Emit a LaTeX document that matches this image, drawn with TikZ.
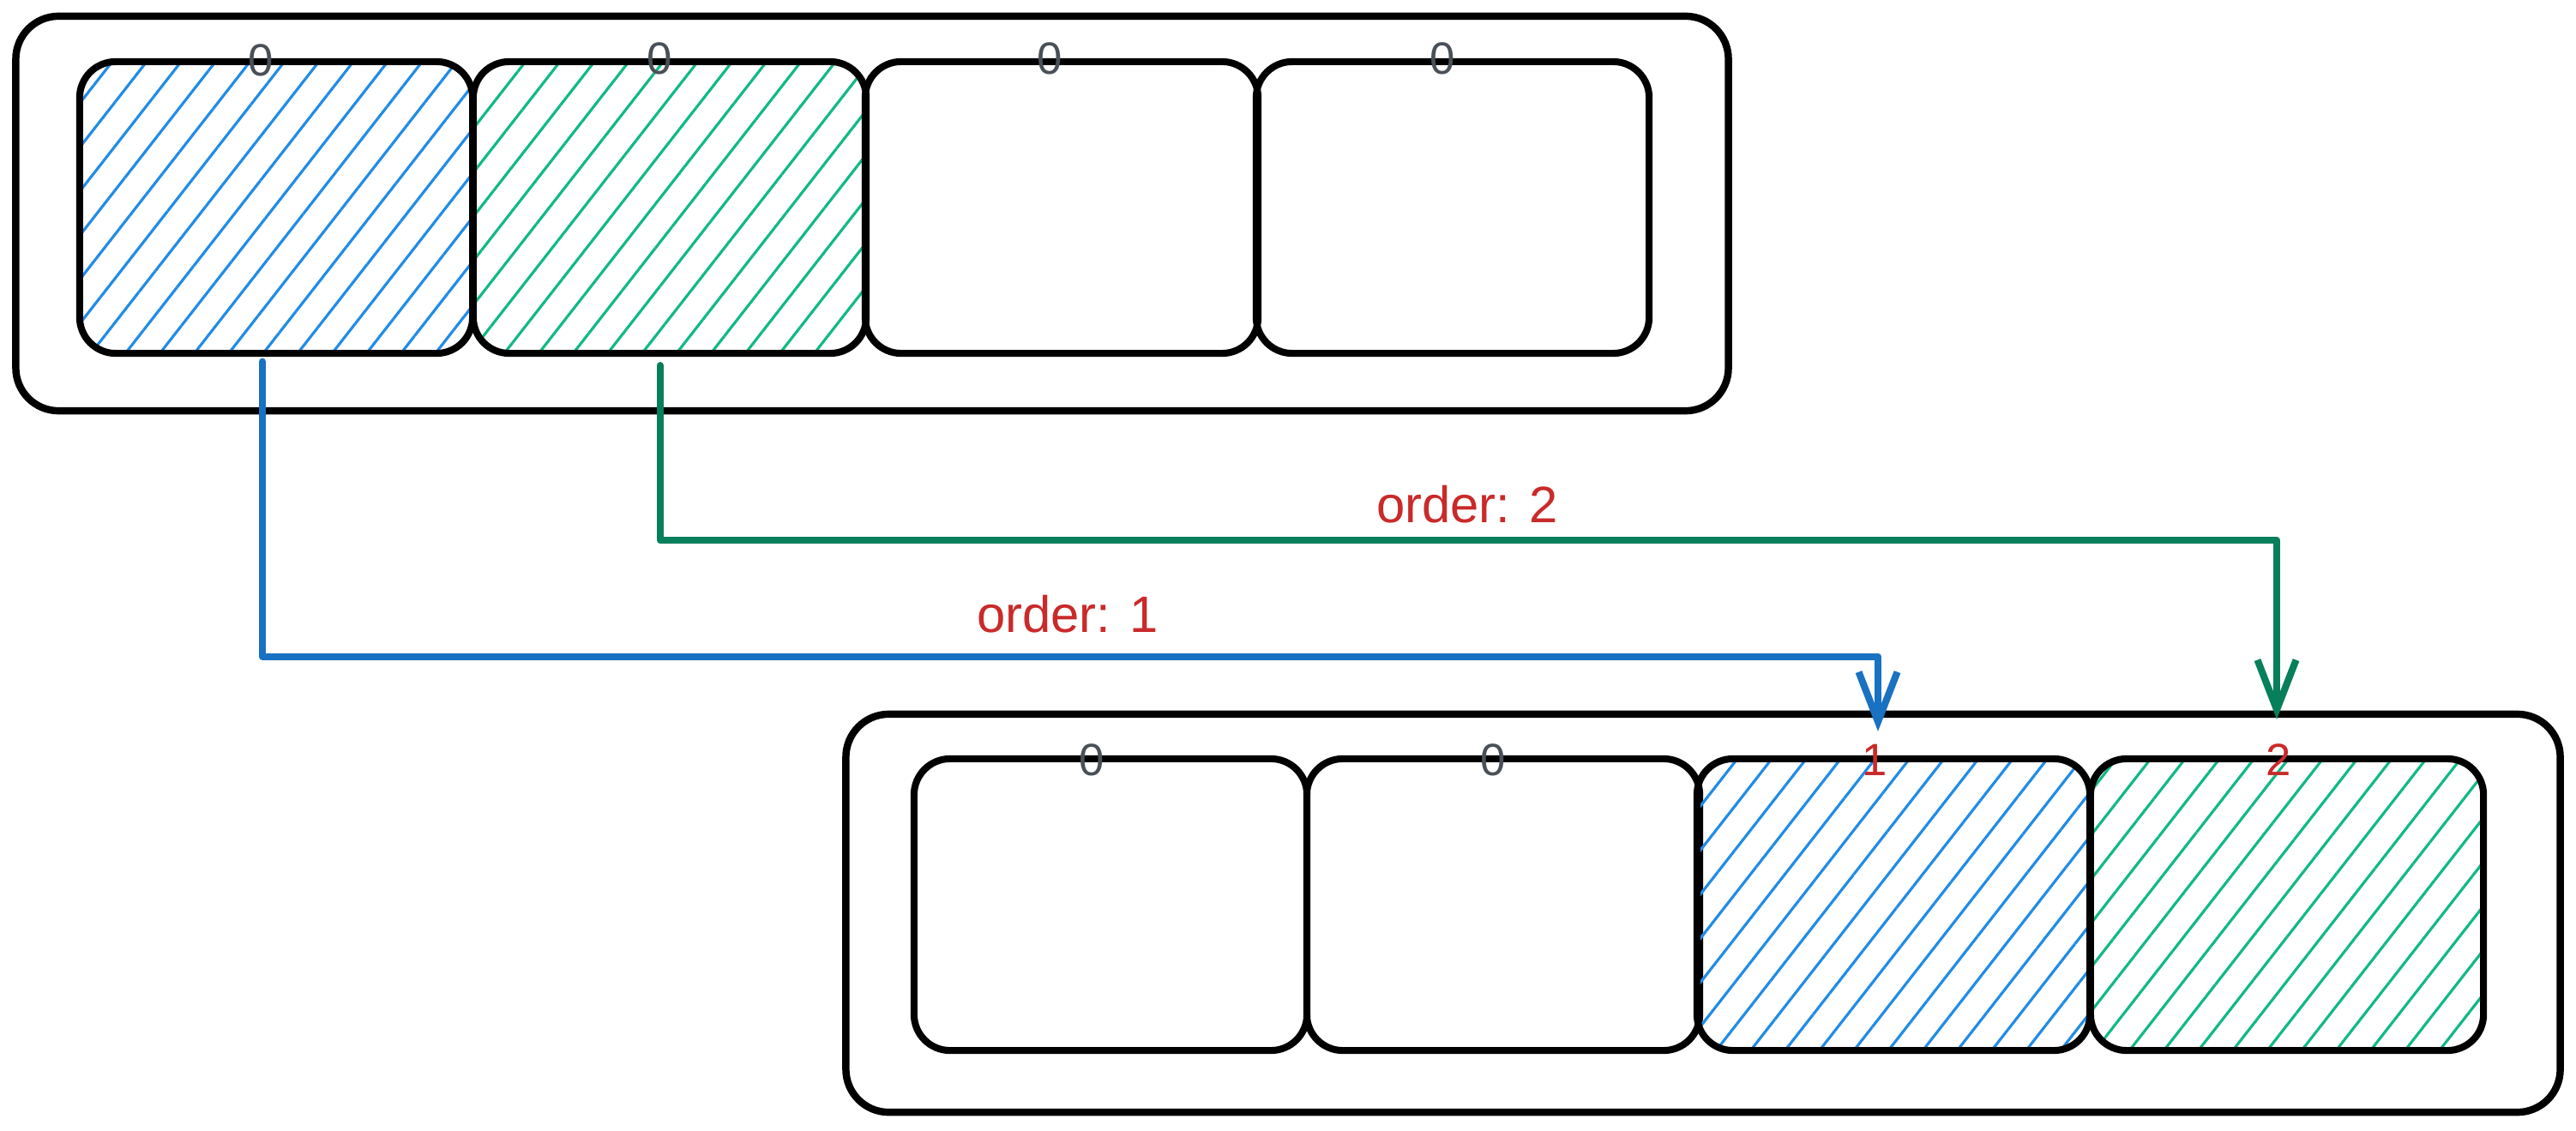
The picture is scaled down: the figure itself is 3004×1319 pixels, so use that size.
\documentclass[tikz,border=0pt]{standalone}
\usepackage{fontspec}
\setmainfont{Liberation Sans}
\usetikzlibrary{calc,arrows.meta,patterns.meta}
\definecolor{exblue}{HTML}{1971C2}
\definecolor{exbluehatch}{HTML}{228BE6}
\definecolor{exgreen}{HTML}{087F5B}
\definecolor{exgreenhatch}{HTML}{12B886}
\definecolor{exred}{HTML}{C92A2A}
\definecolor{exgray}{HTML}{495057}
\begin{document}
\begin{tikzpicture}[x=0.01cm,y=-0.01cm,
  outerbox/.style={draw=black, line width=2.4pt, rounded corners=0.5cm, rectangle, inner sep=0pt},
  cell/.style={draw=black, line width=2.3pt, rounded corners=0.42cm, rectangle, inner sep=0pt, minimum width=4.58cm, minimum height=3.40cm},
  bluefill/.style={pattern={Lines[angle=52,distance=9pt,line width=0.9pt]}, pattern color=exbluehatch},
  greenfill/.style={pattern={Lines[angle=52,distance=9pt,line width=0.9pt]}, pattern color=exgreenhatch},
  idx/.style={text=exgray, font=\fontsize{15}{18}\selectfont, inner sep=0pt},
  ordidx/.style={text=exred, font=\fontsize{15}{18}\selectfont, inner sep=0pt},
  ordlabel/.style={text=exred, font=\fontsize{17}{20}\selectfont, inner sep=0pt},
  conn/.style={line width=2.3pt, line join=round, line cap=round, -{Straight Barb[length=0.58cm,width=0.45cm]}},
]
\useasboundingbox (0,0) rectangle (3004,1319);
% top group
\node[outerbox, minimum width=19.96cm, minimum height=4.60cm] (topouter) at (1017,249) {};
\node[cell, bluefill]  (t1) at (322,242) {};
\node[cell, greenfill] (t2) at (781,242) {};
\node[cell] (t3) at (1238,242) {};
\node[cell] (t4) at (1694,242) {};
\node[idx] (l1) at ($(t1.north)+(-18,0)$) {0};
\node[idx] (l2) at ($(t2.north)+(-12,0)$) {0};
\node[idx] (l3) at ($(t3.north)+(-14,0)$) {0};
\node[idx] (l4) at ($(t4.north)+(-12,0)$) {0};
% bottom group
\node[outerbox, minimum width=19.98cm, minimum height=4.64cm] (botouter) at (1986,1065) {};
\node[cell] (b1) at (1295,1055) {};
\node[cell] (b2) at (1753,1055) {};
\node[cell, bluefill]  (b3) at (2208,1055) {};
\node[cell, greenfill] (b4) at (2667,1055) {};
\node[idx] (m1) at ($(b1.north)+(-22,5)$) {0};
\node[idx] (m2) at ($(b2.north)+(-12,5)$) {0};
\node[ordidx] (m3) at ($(b3.north)+(-22,5)$) {1};
\node[ordidx] (m4) at ($(b4.north)+(-10,5)$) {2};
% connectors
\draw[conn, exblue] ($(t1.south)+(-16,8)$) -- ++(0,344) -| ($(b3.north)+(-18,-28)$);
\draw[conn, exgreen] ($(t2.south)+(-11,10)$) -- ++(0,204) -| ($(b4.north)+(-12,-42)$);
% labels
\node[ordlabel] (o1) at (1245,716) {order: 1};
\node[ordlabel] (o2) at (1711,588) {order: 2};
\end{tikzpicture}
\end{document}
